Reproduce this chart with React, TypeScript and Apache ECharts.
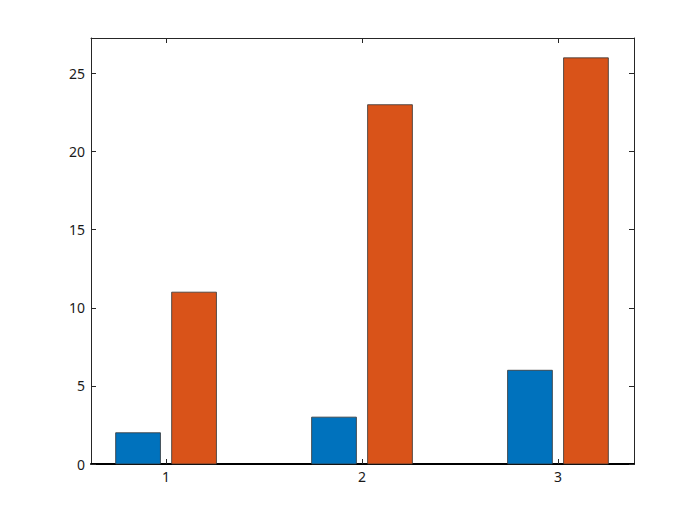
import React, { useEffect, useRef } from "react";
import * as echarts from "echarts";

const categories = [1, 2, 3];
const seriesA = [2, 3, 6];
const seriesB = [11, 23, 26];
const yTicks = [0, 5, 10, 15, 20, 25];
const colorA = "#0072BD";
const colorB = "#D95319";

const X_MIN = 0.617;
const X_MAX = 3.388;
const Y_MAX = 27.27;
const BAR_W = 0.8 * 2 / 7;
const OFFSET = 1 / 7;

function makeRender(offset: number) {
  return (params: any, api: any) => {
    const x = api.value(0) + offset;
    const y = api.value(1);
    const p0 = api.coord([x - BAR_W / 2, y]);
    const p1 = api.coord([x + BAR_W / 2, 0]);
    return {
      type: "rect",
      shape: { x: p0[0], y: p0[1], width: p1[0] - p0[0], height: p1[1] - p0[1] },
      style: { fill: api.visual("color"), stroke: "#333333", lineWidth: 0.8 },
    };
  };
}

export default function App() {
  const ref = useRef<HTMLDivElement>(null);
  useEffect(() => {
    if (!ref.current) return;
    const chart = echarts.init(ref.current, undefined, { renderer: "svg" });
    const labelStyle = { color: "#1a1a1a", fontFamily: "Noto Sans", fontSize: 14 };
    chart.setOption({
      animation: false,
      backgroundColor: "#ffffff",
      grid: { left: 91, right: 66, top: 38, bottom: 58, containLabel: false },
      xAxis: [
        {
          type: "value",
          min: X_MIN,
          max: X_MAX,
          position: "bottom",
          axisLine: { show: true, onZero: false, lineStyle: { color: "#000000", width: 2 } },
          axisTick: { show: true, inside: true, length: 5, lineStyle: { color: "#262626" }, customValues: categories },
          axisLabel: { ...labelStyle, margin: 5, customValues: categories, formatter: (v: number) => String(v) },
          splitLine: { show: false },
        },
        {
          type: "value",
          min: X_MIN,
          max: X_MAX,
          position: "top",
          axisLine: { show: true, onZero: false, lineStyle: { color: "#262626", width: 1 } },
          axisTick: { show: true, inside: true, length: 5, lineStyle: { color: "#262626" }, customValues: categories },
          axisLabel: { show: false },
          splitLine: { show: false },
        },
      ],
      yAxis: [
        {
          type: "value",
          min: 0,
          max: Y_MAX,
          position: "left",
          axisLine: { show: true, onZero: false, lineStyle: { color: "#262626", width: 1 } },
          axisTick: { show: true, inside: true, length: 5, lineStyle: { color: "#262626" }, customValues: yTicks },
          axisLabel: { ...labelStyle, margin: 6, customValues: yTicks, formatter: (v: number) => String(v) },
          splitLine: { show: false },
        },
        {
          type: "value",
          min: 0,
          max: Y_MAX,
          position: "right",
          axisLine: { show: true, onZero: false, lineStyle: { color: "#262626", width: 1 } },
          axisTick: { show: true, inside: true, length: 5, lineStyle: { color: "#262626" }, customValues: yTicks },
          axisLabel: { show: false },
          splitLine: { show: false },
        },
      ],
      series: [
        {
          type: "custom",
          name: "A",
          xAxisIndex: 0,
          yAxisIndex: 0,
          color: colorA,
          encode: { x: 0, y: 1 },
          renderItem: makeRender(-OFFSET),
          data: categories.map((c, i) => [c, seriesA[i]]),
          z: 1,
        },
        {
          type: "custom",
          name: "B",
          xAxisIndex: 0,
          yAxisIndex: 0,
          color: colorB,
          encode: { x: 0, y: 1 },
          renderItem: makeRender(OFFSET),
          data: categories.map((c, i) => [c, seriesB[i]]),
          z: 1,
        },
      ],
    });
    return () => chart.dispose();
  }, []);
  return <div ref={ref} style={{ width: 700, height: 522, position: "fixed", left: 0, top: 0 }} />;
}
